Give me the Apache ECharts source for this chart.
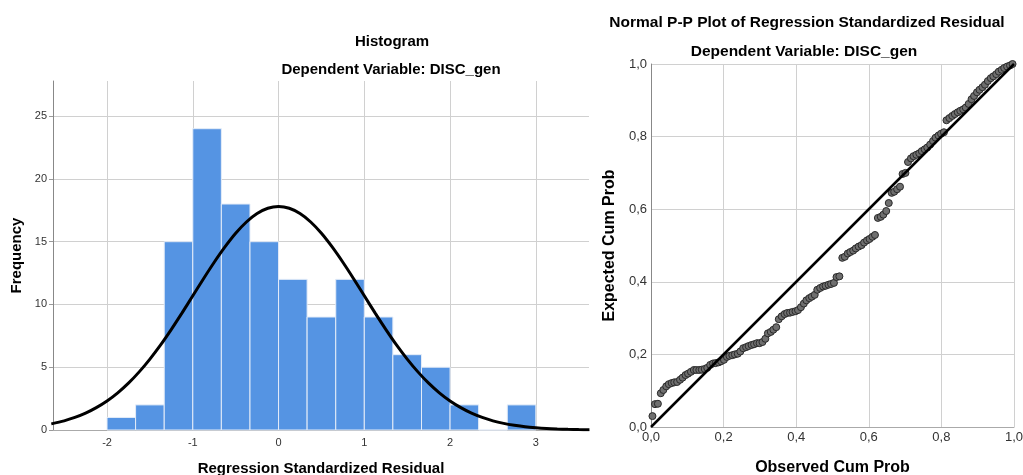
<!DOCTYPE html>
<html>
<head>
<meta charset="utf-8">
<title>Histogram and Normal P-P Plot</title>
<script src="https://cdn.jsdelivr.net/npm/echarts@6/dist/echarts.min.js"></script>
<style>
  html, body { margin: 0; padding: 0; background: #fff; }
  #chart { width: 1023px; height: 475px; }
</style>
</head>
<body>
<div id="chart"></div>
<script>
// Histogram: bin edges (width 1/3) and frequencies
const binEdges = [-2, -1.667, -1.333, -1, -0.667, -0.333, 0, 0.333, 0.667, 1, 1.333, 1.667, 2, 2.333, 2.667, 3];
const binCounts = [1, 2, 15, 24, 18, 15, 12, 9, 12, 9, 6, 5, 2, 0, 2];

// Fitted normal curve
const curveX = [-2.65, -2.5, -2.375, -2.25, -2.125, -2, -1.875, -1.75, -1.625, -1.5, -1.375, -1.25, -1.125,
                -1, -0.875, -0.75, -0.625, -0.5, -0.375, -0.25, -0.125, 0,
                0.125, 0.25, 0.375, 0.5, 0.625, 0.75, 0.875, 1, 1.125, 1.25, 1.375, 1.5, 1.625, 1.75, 1.875,
                2, 2.125, 2.25, 2.375, 2.5, 2.625, 2.75, 2.875, 3, 3.125, 3.25, 3.375, 3.5, 3.625];
const curveY = [0.49, 0.73, 1.00, 1.34, 1.78, 2.31, 2.96, 3.73, 4.63, 5.65, 6.78, 8.02, 9.33,
                10.69, 12.05, 13.36, 14.58, 15.67, 16.57, 17.24, 17.66, 17.8,
                17.66, 17.24, 16.57, 15.67, 14.58, 13.36, 12.05, 10.69, 9.33, 8.02, 6.78, 5.65, 4.63, 3.73, 2.96,
                2.31, 1.78, 1.34, 1.00, 0.73, 0.53, 0.38, 0.26, 0.18, 0.12, 0.08, 0.05, 0.03, 0.02];

const histXTicks = [-2, -1, 0, 1, 2, 3];
const histYTicks = [0, 5, 10, 15, 20, 25];

// P-P plot: observed cum prob vs expected cum prob
const ppPoints = [
  [0.004, 0.030], [0.011, 0.063], [0.019, 0.064], [0.027, 0.093], [0.034, 0.102], [0.042, 0.112],
  [0.049, 0.118], [0.057, 0.121], [0.064, 0.123], [0.072, 0.124], [0.080, 0.130], [0.087, 0.136],
  [0.095, 0.143], [0.102, 0.147], [0.110, 0.152], [0.118, 0.157], [0.125, 0.157], [0.133, 0.157],
  [0.140, 0.158], [0.148, 0.160], [0.155, 0.163], [0.163, 0.171], [0.171, 0.175], [0.178, 0.176],
  [0.186, 0.178], [0.193, 0.181], [0.201, 0.185], [0.209, 0.193], [0.216, 0.196], [0.224, 0.198],
  [0.231, 0.200], [0.239, 0.202], [0.246, 0.208], [0.254, 0.217], [0.262, 0.220], [0.269, 0.223],
  [0.277, 0.226], [0.284, 0.228], [0.292, 0.231], [0.299, 0.231], [0.307, 0.234], [0.315, 0.243],
  [0.322, 0.258], [0.330, 0.262], [0.337, 0.268], [0.345, 0.275], [0.352, 0.297], [0.360, 0.305],
  [0.368, 0.311], [0.375, 0.314], [0.383, 0.315], [0.390, 0.317], [0.398, 0.319], [0.405, 0.322],
  [0.413, 0.330], [0.421, 0.340], [0.428, 0.349], [0.436, 0.355], [0.443, 0.359], [0.451, 0.364],
  [0.458, 0.378], [0.466, 0.383], [0.474, 0.387], [0.481, 0.389], [0.489, 0.392], [0.496, 0.394],
  [0.504, 0.397], [0.511, 0.413], [0.519, 0.415], [0.527, 0.466], [0.534, 0.469], [0.542, 0.478],
  [0.549, 0.482], [0.557, 0.486], [0.564, 0.492], [0.572, 0.497], [0.580, 0.501], [0.587, 0.508],
  [0.595, 0.514], [0.602, 0.518], [0.610, 0.524], [0.617, 0.529], [0.625, 0.576], [0.633, 0.579],
  [0.640, 0.585], [0.648, 0.595], [0.655, 0.617], [0.663, 0.645], [0.670, 0.648], [0.678, 0.655],
  [0.686, 0.662], [0.693, 0.697], [0.701, 0.700], [0.708, 0.730], [0.716, 0.740], [0.723, 0.746],
  [0.731, 0.750], [0.739, 0.754], [0.746, 0.760], [0.754, 0.765], [0.761, 0.770], [0.769, 0.778],
  [0.777, 0.788], [0.784, 0.797], [0.792, 0.803], [0.799, 0.808], [0.807, 0.812], [0.814, 0.845],
  [0.822, 0.851], [0.830, 0.857], [0.837, 0.862], [0.845, 0.867], [0.852, 0.871], [0.860, 0.875],
  [0.867, 0.880], [0.875, 0.890], [0.883, 0.903], [0.890, 0.912], [0.898, 0.922], [0.905, 0.929],
  [0.913, 0.936], [0.920, 0.943], [0.928, 0.953], [0.936, 0.961], [0.943, 0.966], [0.951, 0.972],
  [0.958, 0.979], [0.966, 0.984], [0.973, 0.989], [0.981, 0.993], [0.989, 0.996], [0.996, 1.000]
];
const refLine = [[0, 0], [1, 1]];

const FONT = '"Liberation Sans", Arial, sans-serif';
const GRID_COLOR = '#d0d0d0';

const chart = echarts.init(document.getElementById('chart'), null, { renderer: 'canvas' });

// histogram bars as [start, end, count]
const histData = binCounts.map((c, i) => [binEdges[i], binEdges[i + 1], c]);
const curveData = curveX.map((x, i) => [x, curveY[i]]);

function commaLabel(v) {
  return v.toFixed(1).replace('.', ',');
}

function titleText(text, x, y, size) {
  return {
    type: 'text', x: x, y: y,
    style: {
      text: text, fontFamily: FONT, fontSize: size, fontWeight: 'bold',
      fill: '#000', align: 'center', verticalAlign: 'middle'
    }
  };
}

const option = {
  animation: false,
  backgroundColor: '#fff',
  graphic: [
    titleText('Histogram', 392, 42, 15),
    titleText('Dependent Variable: DISC_gen', 391, 70, 15),
    titleText('Normal P-P Plot of Regression Standardized Residual', 807, 23, 15.5),
    titleText('Dependent Variable: DISC_gen', 804, 52, 15.5)
  ],
  grid: [
    { left: 53, right: 434, top: 81, bottom: 45, outerBoundsMode: 'none', containLabel: false },
    { left: 651, right: 9, top: 64, bottom: 48, outerBoundsMode: 'none', containLabel: false }
  ],
  xAxis: [
    {
      gridIndex: 0, type: 'value', min: -2.63, max: 3.62,
      name: 'Regression Standardized Residual', nameLocation: 'middle', nameGap: 31,
      nameTextStyle: { fontFamily: FONT, fontSize: 15, fontWeight: 'bold', color: '#000' },
      axisLine: { show: true, onZero: false, lineStyle: { color: '#aaa', width: 1 } },
      axisTick: { show: false, customValues: histXTicks },
      axisLabel: { customValues: histXTicks, fontFamily: FONT, fontSize: 11, color: '#333', margin: 7 },
      splitLine: { show: true, lineStyle: { color: GRID_COLOR, width: 1 } }
    },
    {
      gridIndex: 1, type: 'value', min: 0, max: 1, interval: 0.2,
      name: 'Observed Cum Prob', nameLocation: 'middle', nameGap: 33,
      nameTextStyle: { fontFamily: FONT, fontSize: 16, fontWeight: 'bold', color: '#000' },
      axisLine: { show: true, onZero: false, lineStyle: { color: '#aaa', width: 1 } },
      axisTick: { show: false },
      axisLabel: { formatter: commaLabel, fontFamily: FONT, fontSize: 13, color: '#333', margin: 4 },
      splitLine: { show: true, lineStyle: { color: GRID_COLOR, width: 1 } }
    }
  ],
  yAxis: [
    {
      gridIndex: 0, type: 'value', min: 0, max: 27.8,
      name: 'Frequency', nameLocation: 'middle', nameGap: 27,
      nameTextStyle: { fontFamily: FONT, fontSize: 15, fontWeight: 'bold', color: '#000' },
      axisLine: { show: true, onZero: false, lineStyle: { color: '#888', width: 1 } },
      axisTick: { show: true, length: 4, customValues: histYTicks, lineStyle: { color: '#999' } },
      axisLabel: { customValues: histYTicks, fontFamily: FONT, fontSize: 11, color: '#333', margin: 6 },
      splitLine: { show: true, lineStyle: { color: GRID_COLOR, width: 1 } }
    },
    {
      gridIndex: 1, type: 'value', min: 0, max: 1, interval: 0.2,
      name: 'Expected Cum Prob', nameLocation: 'middle', nameGap: 33,
      nameTextStyle: { fontFamily: FONT, fontSize: 16, fontWeight: 'bold', color: '#000' },
      axisLine: { show: true, onZero: false, lineStyle: { color: '#888', width: 1 } },
      axisTick: { show: false },
      axisLabel: { formatter: commaLabel, fontFamily: FONT, fontSize: 13, color: '#333', margin: 4 },
      splitLine: { show: true, lineStyle: { color: GRID_COLOR, width: 1 } }
    }
  ],
  series: [
    {
      type: 'custom',
      xAxisIndex: 0, yAxisIndex: 0,
      data: histData,
      encode: { x: [0, 1], y: 2 },
      renderItem: function (params, api) {
        const top = api.coord([api.value(0), api.value(2)]);
        const base = api.coord([api.value(1), 0]);
        return {
          type: 'rect',
          shape: { x: top[0], y: top[1], width: base[0] - top[0], height: base[1] - top[1] },
          style: { fill: '#5594e3', stroke: '#e4ecf8', lineWidth: 1 }
        };
      },
      z: 2
    },
    {
      type: 'line',
      xAxisIndex: 0, yAxisIndex: 0,
      data: curveData,
      smooth: 0.3,
      symbol: 'none',
      lineStyle: { color: '#000', width: 3 },
      z: 3
    },
    {
      type: 'scatter',
      xAxisIndex: 1, yAxisIndex: 1,
      data: ppPoints,
      symbol: 'circle',
      symbolSize: 7,
      itemStyle: { color: '#6f6f6f', borderColor: '#2a2a2a', borderWidth: 1, opacity: 1 },
      z: 2
    },
    {
      type: 'line',
      xAxisIndex: 1, yAxisIndex: 1,
      data: refLine,
      symbol: 'none',
      lineStyle: { color: '#000', width: 2.5 },
      z: 3
    }
  ]
};

chart.setOption(option);
</script>
</body>
</html>
